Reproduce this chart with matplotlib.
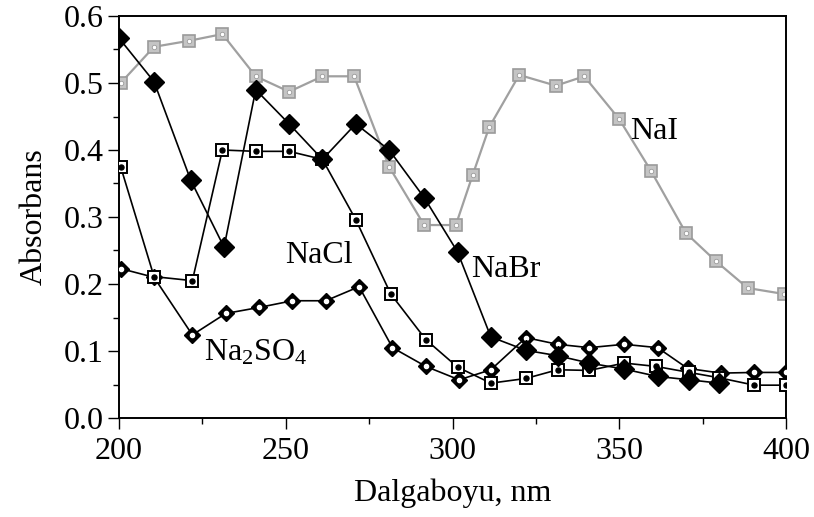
import matplotlib
matplotlib.use("Agg")
import matplotlib.pyplot as plt
from matplotlib.ticker import MultipleLocator

# ---- data ----
nabr_x = [200, 210.5, 221.5, 231.5, 241, 251, 261, 271, 281, 291.5, 301.5, 311.5, 322, 331.5, 341, 351.5, 361.5, 371, 380]
nabr_y = [0.567, 0.502, 0.355, 0.255, 0.490, 0.439, 0.386, 0.439, 0.400, 0.329, 0.248, 0.121, 0.101, 0.093, 0.082, 0.073, 0.062, 0.057, 0.052]

nacl_x = [200.5, 210.5, 222, 231, 241, 251, 261, 271, 281.5, 292, 301.5, 311.5, 322, 331.5, 341, 351.5, 361, 371, 380, 390.5, 400]
nacl_y = [0.375, 0.211, 0.205, 0.400, 0.398, 0.398, 0.386, 0.296, 0.185, 0.117, 0.076, 0.052, 0.059, 0.072, 0.071, 0.082, 0.077, 0.068, 0.060, 0.049, 0.049]

na2so4_x = [200.5, 210.5, 222, 232, 242, 252, 262, 272, 282, 292, 302, 311.5, 322, 331.5, 341, 351.5, 361.5, 370.5, 380.5, 390.5, 400]
na2so4_y = [0.223, 0.210, 0.124, 0.156, 0.165, 0.175, 0.175, 0.196, 0.105, 0.077, 0.057, 0.072, 0.120, 0.110, 0.105, 0.110, 0.105, 0.074, 0.067, 0.068, 0.068]

nai_x = [200.5, 210.5, 221, 231, 241, 251, 261, 270.5, 281, 291.5, 301, 306, 311, 320, 331, 339.5, 350, 359.5, 370, 379, 388.5, 399.5]
nai_y = [0.500, 0.554, 0.563, 0.573, 0.510, 0.487, 0.510, 0.510, 0.375, 0.288, 0.288, 0.362, 0.434, 0.512, 0.496, 0.510, 0.446, 0.369, 0.276, 0.234, 0.194, 0.185]

x_ticks = [200, 250, 300, 350, 400]
y_ticks = [0.0, 0.1, 0.2, 0.3, 0.4, 0.5, 0.6]

plt.rcParams['font.family'] = ['Liberation Serif', 'DejaVu Serif']
plt.rcParams['mathtext.fontset'] = 'custom'
plt.rcParams['mathtext.rm'] = 'Liberation Serif'
plt.rcParams['mathtext.it'] = 'Liberation Serif:italic'

fig = plt.figure(figsize=(8.14, 5.17), dpi=100)
ax = fig.add_axes([119/814, 1-418/517, (786-119)/814, (418-16)/517])

# NaI (gray)
ax.plot(nai_x, nai_y, '-', color='#a0a0a0', lw=1.6, marker='s', ms=8.5,
        mfc='#c4c4c4', mec='#9a9a9a', mew=1.2, zorder=2)
ax.plot(nai_x, nai_y, 'none', marker='o', ms=3.2, mfc='white', mec='#9a9a9a', mew=0.6, zorder=2.1)

# Na2SO4 (black diamond with white dot)
ax.plot(na2so4_x, na2so4_y, '-', color='black', lw=1.2, marker='D', ms=8.5,
        mfc='black', mec='black', zorder=3)
ax.plot(na2so4_x, na2so4_y, 'none', marker='o', ms=3.0, mfc='white', mec='white', zorder=3.1)

# NaCl (open square with black dot)
ax.plot(nacl_x, nacl_y, '-', color='black', lw=1.2, marker='s', ms=8.5,
        mfc='white', mec='black', mew=1.4, zorder=4)
ax.plot(nacl_x, nacl_y, 'none', marker='o', ms=3.6, mfc='black', mec='black', zorder=4.1)

# NaBr (filled diamond)
ax.plot(nabr_x, nabr_y, '-', color='black', lw=1.2, marker='D', ms=10,
        mfc='black', mec='black', zorder=5)

ax.set_xlim(200, 400)
ax.set_ylim(0.0, 0.6)
ax.set_xticks(x_ticks)
ax.set_yticks(y_ticks)
ax.set_xticklabels([str(v) for v in x_ticks])
ax.set_yticklabels([f"{v:.1f}" for v in y_ticks])
ax.xaxis.set_minor_locator(MultipleLocator(25))
ax.yaxis.set_minor_locator(MultipleLocator(0.05))
ax.tick_params(which='major', direction='out', length=8, width=1.0, labelsize=23, pad=3,
               top=False, right=False)
ax.tick_params(axis='x', which='major', pad=6)
ax.tick_params(which='minor', direction='out', length=4.5, width=1.0, top=False, right=False)
for s in ax.spines.values():
    s.set_linewidth(1.4)

ax.set_xlabel('Dalgaboyu, nm', fontsize=23, labelpad=9)
ax.set_ylabel('Absorbans', fontsize=23, labelpad=11)

ax.text(260, 0.243, 'NaCl', fontsize=23, ha='center', va='center')
ax.text(316, 0.221, 'NaBr', fontsize=23, ha='center', va='center')
ax.text(241, 0.098, r'Na$_2$SO$_4$', fontsize=23, ha='center', va='center')
ax.text(360.5, 0.427, 'NaI', fontsize=23, ha='center', va='center')

fig.savefig('out.png', dpi=100)
